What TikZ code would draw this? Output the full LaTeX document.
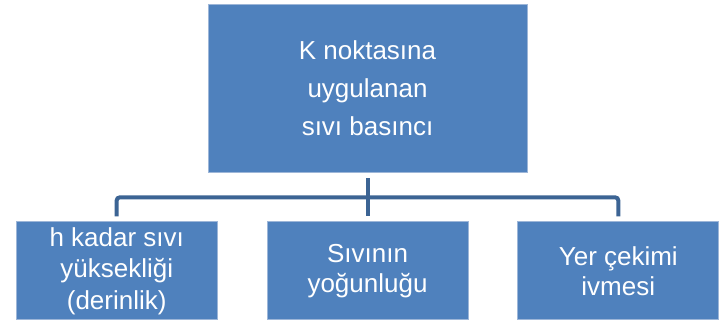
\documentclass[tikz,border=0pt]{standalone}
\usepackage{fontspec}
\setmainfont{Liberation Sans}
\usepackage{tikz}
\usetikzlibrary{positioning}

\definecolor{kutumavi}{HTML}{4F81BD}
\definecolor{kenarmavi}{HTML}{9DB6D8}
\definecolor{cizgimavi}{HTML}{3C6494}

\begin{document}
\begin{tikzpicture}
        % Kutu ve cizgi stilleri
        \tikzstyle{kutu} = [rectangle, fill=kutumavi, draw=kenarmavi, line width=0.8pt, text=white, align=center, inner sep=0pt]
        \tikzstyle{ustkutu} = [kutu, minimum width=319pt, minimum height=168pt, font=\fontsize{26}{38}\selectfont]
        \tikzstyle{altkutu} = [kutu, minimum width=201pt, minimum height=98pt, font=\fontsize{26}{30}\selectfont]
        \tikzstyle{baglanti} = [draw=cizgimavi, line width=4pt]

        \useasboundingbox (0,0) rectangle (724pt,323pt);

        % Kutular
        \node (basinc) [ustkutu] at (367.5pt,235pt) {K noktasına\\uygulanan\\sıvı basıncı};
        \node (yogunluk) [altkutu, below=49pt of basinc] {Sıvının\\yoğunluğu};
        \node (derinlik) [altkutu, left=49pt of yogunluk] {h kadar sıvı\\[1.5pt]yüksekliği\\[1.5pt](derinlik)};
        \node (ivme) [altkutu, right=49pt of yogunluk] {Yer çekimi\\ivmesi};

        % Baglantilar
        \coordinate (dugum) at ([yshift=-25pt]basinc.south);
        \draw [baglanti] ([yshift=-6pt]basinc.south) -- ([yshift=5pt]yogunluk.north);
        \draw [baglanti, rounded corners=3pt] ([yshift=5pt]derinlik.north) |- (dugum) -| ([yshift=5pt]ivme.north);
    \end{tikzpicture}
\end{document}
